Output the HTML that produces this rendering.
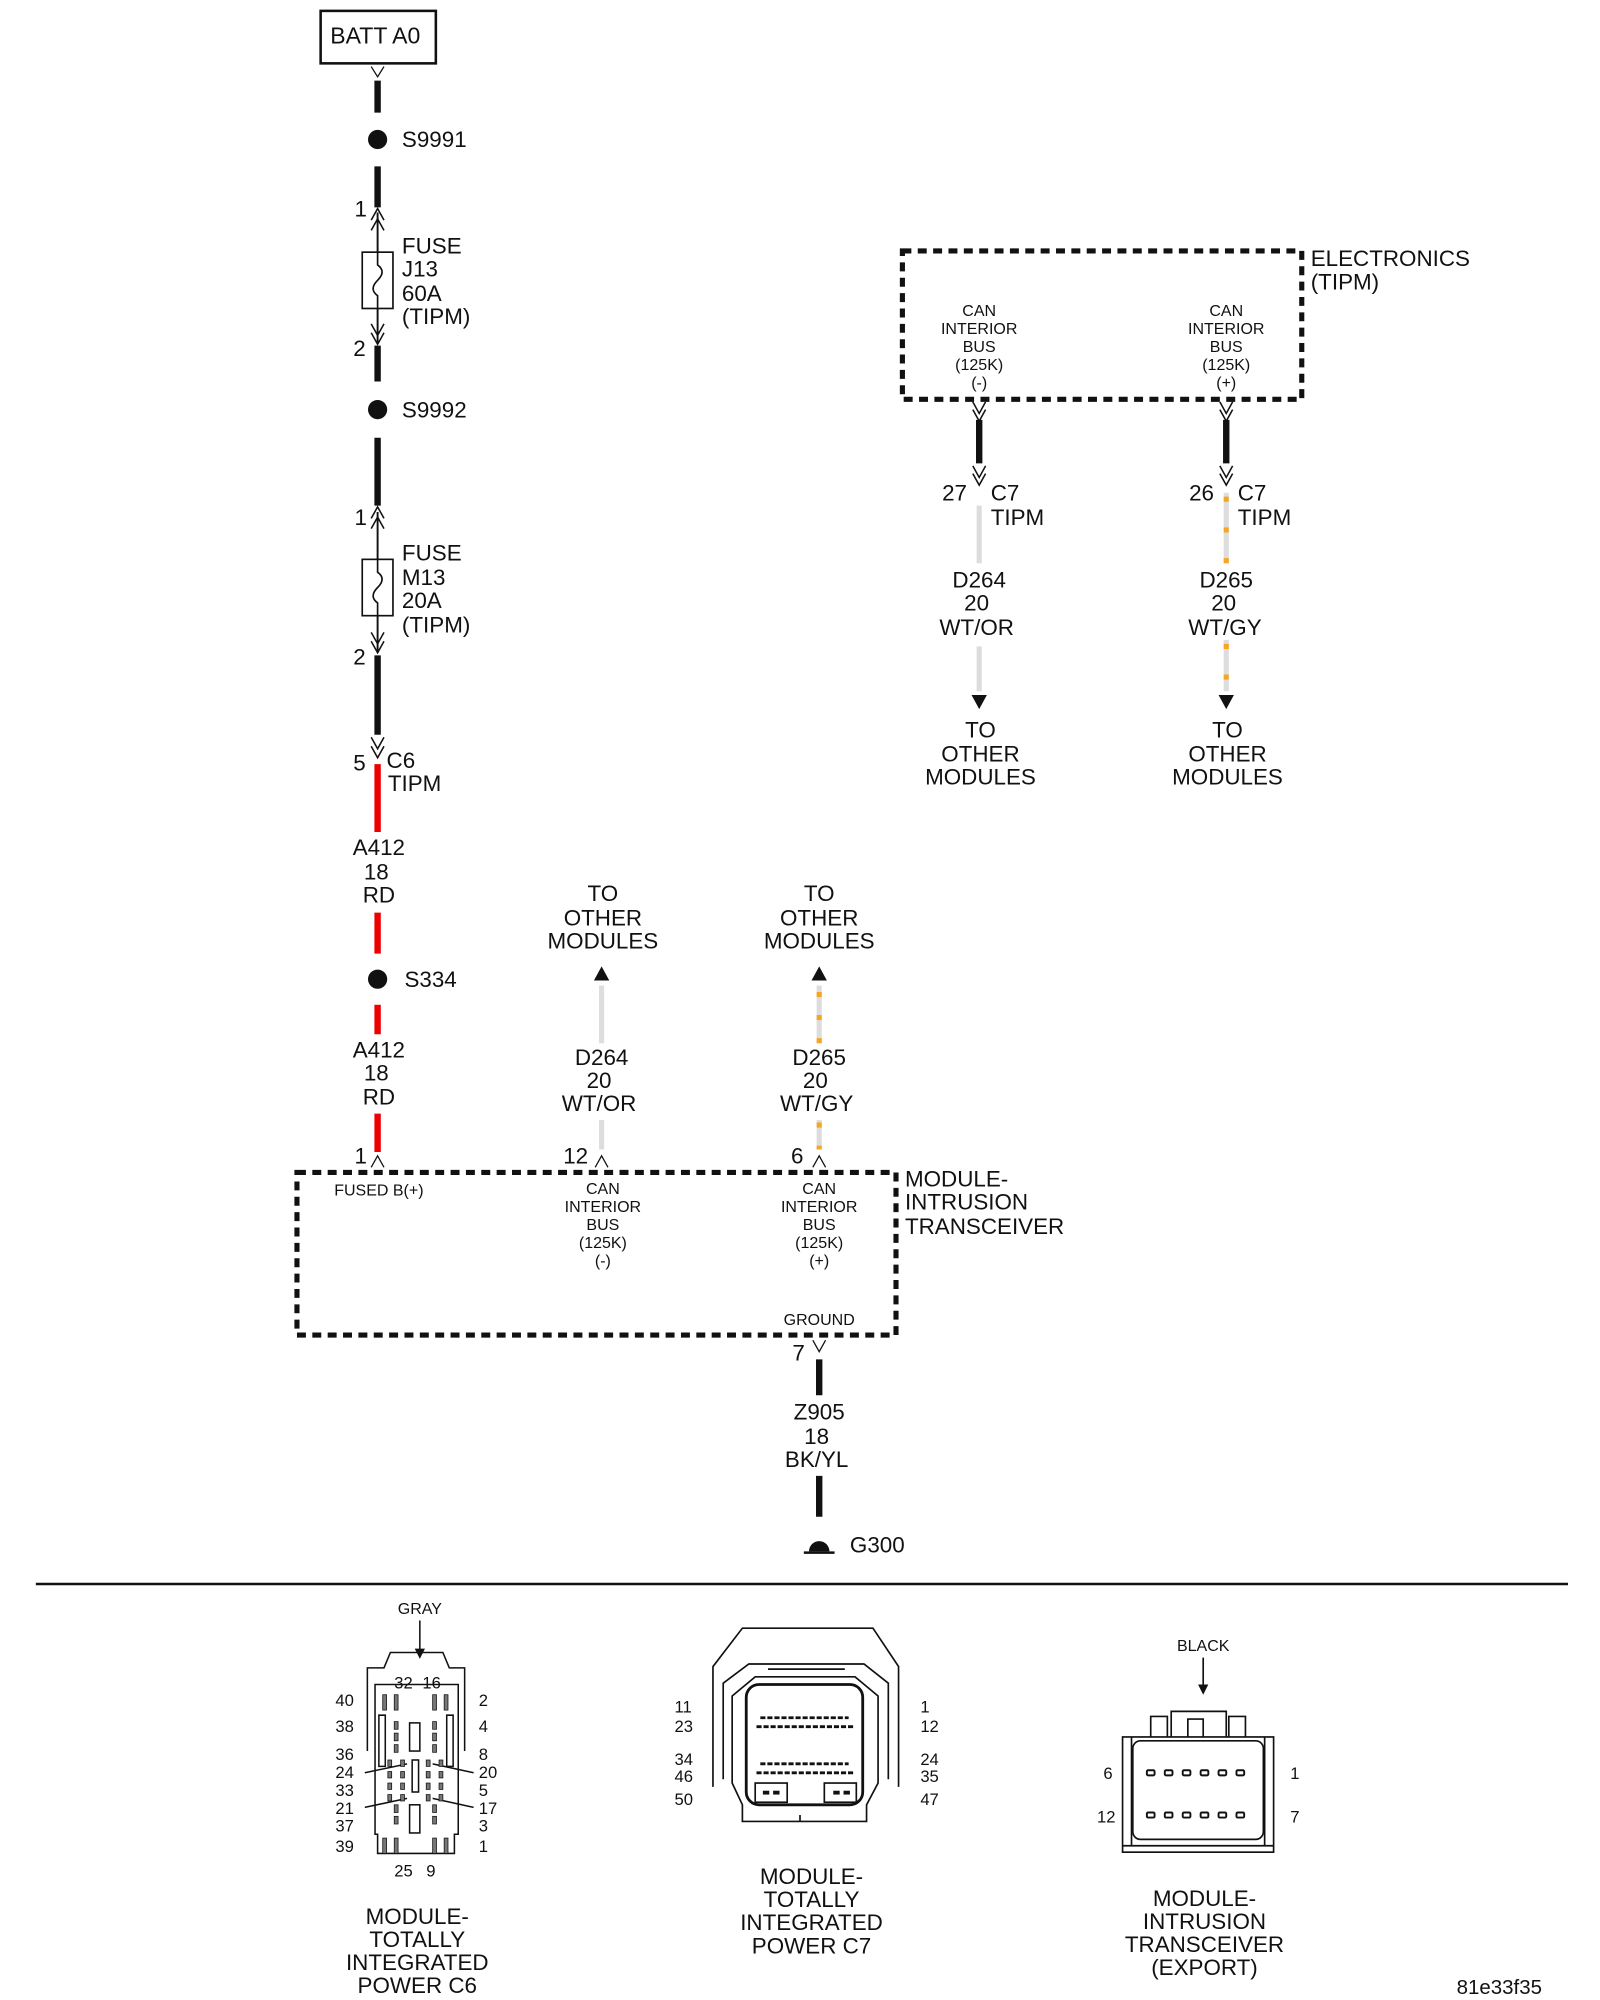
<!DOCTYPE html>
<html><head><meta charset="utf-8"><style>
html,body{margin:0;padding:0;background:#fff;}
svg{display:block;}
text{font-family:"Liberation Sans",sans-serif;fill:#111;}
.t{font-size:17.5px;}
.s{font-size:12.5px;}
.m{font-size:13px;}
</style></head><body>
<svg width="1600" height="2000" viewBox="0 0 1250 1562.5" xmlns="http://www.w3.org/2000/svg">
<g fill="none" stroke="#111">
<!-- BATT -->
<rect x="250.5" y="8.5" width="90" height="41" stroke-width="2"/>
<path d="M290 52 L295 60 L300 52" stroke-width="1"/>
<line x1="295" y1="63" x2="295" y2="88" stroke-width="5"/>
<line x1="295" y1="130" x2="295" y2="162" stroke-width="5"/>
<path d="M290 172 L295 163 L300 172 M290 180 L295 171 L300 180" stroke-width="1.2"/>
<line x1="295" y1="166" x2="295" y2="268" stroke-width="1.5"/>
<rect x="283" y="197" width="24" height="44" stroke-width="1.3" fill="#fff"/>
<path d="M295 197 L295 207 Q302 212 295 219 Q288 226 295 231 L295 241" stroke-width="1.3"/>
<path d="M290 253 L295 262 L300 253 M290 260 L295 269 L300 260" stroke-width="1.2"/>
<line x1="295" y1="270" x2="295" y2="298" stroke-width="5"/>
<line x1="295" y1="342" x2="295" y2="395" stroke-width="5"/>
<path d="M290 405 L295 396 L300 405 M290 413 L295 404 L300 413" stroke-width="1.2"/>
<line x1="295" y1="400" x2="295" y2="510" stroke-width="1.5"/>
<rect x="283" y="437" width="24" height="44" stroke-width="1.3" fill="#fff"/>
<path d="M295 437 L295 447 Q302 452 295 459 Q288 466 295 471 L295 481" stroke-width="1.3"/>
<path d="M290 494 L295 503 L300 494 M290 501 L295 510 L300 501" stroke-width="1.2"/>
<line x1="295" y1="512" x2="295" y2="574" stroke-width="5"/>
<path d="M290 576 L295 585 L300 576 M290 583 L295 592 L300 583" stroke-width="1.2"/>
<line x1="295" y1="597" x2="295" y2="650" stroke-width="5" stroke="#e00"/>
<line x1="295" y1="713" x2="295" y2="745" stroke-width="5" stroke="#e00"/>
<line x1="295" y1="785" x2="295" y2="808" stroke-width="5" stroke="#e00"/>
<line x1="295" y1="870" x2="295" y2="900" stroke-width="5" stroke="#e00"/>
<path d="M290 912 L295 903 L300 912" stroke-width="1"/>
<!-- module box -->
<rect x="232" y="916" width="468" height="127" stroke-width="4" stroke-dasharray="7,5"/>
<!-- D264 lower -->
<line x1="470" y1="770" x2="470" y2="815" stroke-width="4" stroke="#ddd"/>
<line x1="470" y1="875" x2="470" y2="898" stroke-width="4" stroke="#ddd"/>
<path d="M465 912 L470 903 L475 912" stroke-width="1"/>
<!-- D265 lower -->
<line x1="640" y1="770" x2="640" y2="815" stroke-width="4" stroke="#ddd"/>
<line x1="640" y1="775" x2="640" y2="815" stroke-width="4" stroke="#f5a623" stroke-dasharray="4,14"/>
<line x1="640" y1="875" x2="640" y2="898" stroke-width="4" stroke="#ddd"/>
<line x1="640" y1="877" x2="640" y2="898" stroke-width="4" stroke="#f5a623" stroke-dasharray="4,14"/>
<path d="M635 912 L640 903 L645 912" stroke-width="1"/>
<!-- ground -->
<path d="M635 1047 L640 1056 L645 1047" stroke-width="1"/>
<line x1="640" y1="1062" x2="640" y2="1090" stroke-width="5"/>
<line x1="640" y1="1153" x2="640" y2="1185" stroke-width="5"/>
<line x1="628" y1="1213" x2="652" y2="1213" stroke-width="2"/>
<line x1="28" y1="1237.5" x2="1225" y2="1237.5" stroke-width="2"/>
<!-- top right box -->
<rect x="705" y="196" width="312" height="116" stroke-width="4" stroke-dasharray="7,5"/>
<path d="M760 314 L765 323 L770 314 M760 320 L765 329 L770 320" stroke-width="1.2"/>
<line x1="765" y1="328" x2="765" y2="362" stroke-width="5"/>
<path d="M760 364 L765 373 L770 364 M760 370 L765 379 L770 370" stroke-width="1.2"/>
<line x1="765" y1="395" x2="765" y2="440" stroke-width="4" stroke="#ddd"/>
<line x1="765" y1="505" x2="765" y2="540" stroke-width="4" stroke="#ddd"/>
<path d="M953 314 L958 323 L963 314 M953 320 L958 329 L963 320" stroke-width="1.2"/>
<line x1="958" y1="328" x2="958" y2="362" stroke-width="5"/>
<path d="M953 364 L958 373 L963 364 M953 370 L958 379 L963 370" stroke-width="1.2"/>
<line x1="958" y1="385" x2="958" y2="440" stroke-width="4" stroke="#ddd"/>
<line x1="958" y1="388" x2="958" y2="440" stroke-width="4" stroke="#f5a623" stroke-dasharray="4,20"/>
<line x1="958" y1="500" x2="958" y2="540" stroke-width="4" stroke="#ddd"/>
<line x1="958" y1="503" x2="958" y2="540" stroke-width="4" stroke="#f5a623" stroke-dasharray="4,20"/>
</g>
<g fill="#111">
<circle cx="295" cy="109" r="7.5"/>
<circle cx="295" cy="320" r="7.5"/>
<circle cx="295" cy="765" r="7.5"/>
<path d="M464 766 L470 755 L476 766Z"/>
<path d="M634 766 L640 755 L646 766Z"/>
<path d="M759 543 L765 554 L771 543Z"/>
<path d="M952 543 L958 554 L964 543Z"/>
<path d="M632 1212 A8 8 0 0 1 648 1212Z"/>
</g>
<!-- texts -->
<g class="t">
<text x="258" y="34" style="font-size:18px">BATT A0</text>
<text x="314" y="115">S9991</text>
<text x="277" y="169">1</text>
<text x="314" y="198">FUSE</text><text x="314" y="216">J13</text><text x="314" y="235">60A</text><text x="314" y="253">(TIPM)</text>
<text x="276" y="278">2</text>
<text x="314" y="326">S9992</text>
<text x="277" y="410">1</text>
<text x="314" y="438">FUSE</text><text x="314" y="457">M13</text><text x="314" y="475">20A</text><text x="314" y="494">(TIPM)</text>
<text x="276" y="519">2</text>
<text x="276" y="602">5</text><text x="302" y="600">C6</text><text x="303" y="618">TIPM</text>
<g text-anchor="middle">
<text x="296" y="668">A412</text><text x="294" y="687">18</text><text x="296" y="705">RD</text>
<text x="296" y="826">A412</text><text x="294" y="844">18</text><text x="296" y="863">RD</text>
<text x="471" y="704">TO</text><text x="471" y="723">OTHER</text><text x="471" y="741">MODULES</text>
<text x="640" y="704">TO</text><text x="640" y="723">OTHER</text><text x="640" y="741">MODULES</text>
<text x="470" y="832">D264</text><text x="468" y="850">20</text><text x="468" y="868">WT/OR</text>
<text x="640" y="832">D265</text><text x="637" y="850">20</text><text x="638" y="868">WT/GY</text>
<text x="640" y="1109">Z905</text><text x="638" y="1128">18</text><text x="638" y="1146">BK/YL</text>
<text x="765" y="459">D264</text><text x="763" y="477">20</text><text x="763" y="496">WT/OR</text>
<text x="958" y="459">D265</text><text x="956" y="477">20</text><text x="957" y="496">WT/GY</text>
<text x="766" y="576">TO</text><text x="766" y="595">OTHER</text><text x="766" y="613">MODULES</text>
<text x="959" y="576">TO</text><text x="959" y="595">OTHER</text><text x="959" y="613">MODULES</text>
<text x="326" y="1503">MODULE-</text><text x="326" y="1521">TOTALLY</text><text x="326" y="1539">INTEGRATED</text><text x="326" y="1557">POWER C6</text>
<text x="634" y="1472">MODULE-</text><text x="634" y="1490">TOTALLY</text><text x="634" y="1508">INTEGRATED</text><text x="634" y="1526">POWER C7</text>
<text x="941" y="1489">MODULE-</text><text x="941" y="1507">INTRUSION</text><text x="941" y="1525">TRANSCEIVER</text><text x="941" y="1543">(EXPORT)</text>
</g>
<text x="316" y="771">S334</text>
<text x="277" y="909">1</text>
<text x="440" y="909">12</text>
<text x="618" y="909">6</text>
<text x="707" y="927">MODULE-</text><text x="707" y="945">INTRUSION</text><text x="707" y="964">TRANSCEIVER</text>
<text x="619" y="1063">7</text>
<text x="664" y="1213">G300</text>
<text x="1024" y="208">ELECTRONICS</text><text x="1024" y="226">(TIPM)</text>
<text x="736" y="391">27</text><text x="774" y="391">C7</text><text x="774" y="410">TIPM</text>
<text x="929" y="391">26</text><text x="967" y="391">C7</text><text x="967" y="410">TIPM</text>
<text x="1138" y="1558" style="font-size:16px">81e33f35</text>
</g>
<g class="s" text-anchor="middle">
<text x="296" y="934" text-anchor="middle">FUSED B(+)</text>
<text x="471" y="933">CAN</text><text x="471" y="947">INTERIOR</text><text x="471" y="961">BUS</text><text x="471" y="975">(125K)</text><text x="471" y="989">(-)</text>
<text x="640" y="933">CAN</text><text x="640" y="947">INTERIOR</text><text x="640" y="961">BUS</text><text x="640" y="975">(125K)</text><text x="640" y="989">(+)</text>
<text x="640" y="1035">GROUND</text>
<text x="765" y="247">CAN</text><text x="765" y="261">INTERIOR</text><text x="765" y="275">BUS</text><text x="765" y="289">(125K)</text><text x="765" y="303">(-)</text>
<text x="958" y="247">CAN</text><text x="958" y="261">INTERIOR</text><text x="958" y="275">BUS</text><text x="958" y="289">(125K)</text><text x="958" y="303">(+)</text>
<text x="328" y="1261">GRAY</text>
<text x="940" y="1290">BLACK</text>
</g>
<!-- C6 connector -->
<g fill="none" stroke="#111" stroke-width="1.2">
<line x1="328" y1="1266" x2="328" y2="1290"/>
<path d="M287 1368 L287 1303 L300 1303 L305 1291 L346 1291 L351 1303 L363 1303 L363 1368"/>
<path d="M293 1316 L358 1316 L358 1433 L355 1433 L355 1448 L295 1448 L295 1433 L293 1433 Z"/>
<line x1="285" y1="1385" x2="318" y2="1378"/><line x1="370" y1="1385" x2="338" y2="1378"/>
<line x1="285" y1="1412" x2="318" y2="1405"/><line x1="370" y1="1412" x2="338" y2="1405"/>
<rect x="320" y="1346" width="8" height="22"/><rect x="322" y="1375" width="5" height="25"/><rect x="320" y="1410" width="8" height="22"/>
<path d="M296 1340 v40 h5 v-40z M349 1340 v40 h5 v-40z"/>
</g>
<g fill="#777" stroke="#111" stroke-width="0.6">
<rect x="299" y="1324" width="3" height="12"/><rect x="308" y="1324" width="3" height="12"/><rect x="338" y="1324" width="3" height="12"/><rect x="347" y="1324" width="3" height="12"/>
<rect x="299" y="1436" width="3" height="12"/><rect x="308" y="1436" width="3" height="12"/><rect x="338" y="1436" width="3" height="12"/><rect x="347" y="1436" width="3" height="12"/>
<rect x="308" y="1345" width="3" height="6"/><rect x="308" y="1354" width="3" height="6"/><rect x="308" y="1363" width="3" height="6"/>
<rect x="338" y="1345" width="3" height="6"/><rect x="338" y="1354" width="3" height="6"/><rect x="338" y="1363" width="3" height="6"/>
<rect x="303" y="1375" width="3" height="5"/><rect x="303" y="1384" width="3" height="5"/><rect x="303" y="1393" width="3" height="5"/><rect x="303" y="1402" width="3" height="5"/>
<rect x="313" y="1375" width="3" height="5"/><rect x="313" y="1384" width="3" height="5"/><rect x="313" y="1393" width="3" height="5"/><rect x="313" y="1402" width="3" height="5"/>
<rect x="333" y="1375" width="3" height="5"/><rect x="333" y="1384" width="3" height="5"/><rect x="333" y="1393" width="3" height="5"/><rect x="333" y="1402" width="3" height="5"/>
<rect x="343" y="1375" width="3" height="5"/><rect x="343" y="1384" width="3" height="5"/><rect x="343" y="1393" width="3" height="5"/><rect x="343" y="1402" width="3" height="5"/>
<rect x="308" y="1410" width="3" height="6"/><rect x="308" y="1419" width="3" height="6"/><rect x="338" y="1410" width="3" height="6"/><rect x="338" y="1419" width="3" height="6"/>
</g>
<g fill="#111">
<path d="M324 1288 L328 1296 L332 1288Z"/>
</g>
<g class="m">
<text x="308" y="1319">32</text><text x="330" y="1319">16</text>
<text x="262" y="1333">40</text><text x="262" y="1353">38</text><text x="262" y="1375">36</text><text x="262" y="1389">24</text><text x="262" y="1403">33</text><text x="262" y="1417">21</text><text x="262" y="1431">37</text><text x="262" y="1447">39</text>
<text x="374" y="1333">2</text><text x="374" y="1353">4</text><text x="374" y="1375">8</text><text x="374" y="1389">20</text><text x="374" y="1403">5</text><text x="374" y="1417">17</text><text x="374" y="1431">3</text><text x="374" y="1447">1</text>
<text x="308" y="1466">25</text><text x="333" y="1466">9</text>
<text x="527" y="1338">11</text><text x="527" y="1353">23</text><text x="527" y="1379">34</text><text x="527" y="1392">46</text><text x="527" y="1410">50</text>
<text x="719" y="1338">1</text><text x="719" y="1353">12</text><text x="719" y="1379">24</text><text x="719" y="1392">35</text><text x="719" y="1410">47</text>
<text x="862" y="1390">6</text><text x="857" y="1424">12</text><text x="1008" y="1390">1</text><text x="1008" y="1424">7</text>
</g>
<!-- C7 connector -->
<g fill="none" stroke="#111" stroke-width="1.3">
<path d="M557 1396 L557 1302 L580 1272 L682 1272 L702 1302 L702 1396"/>
<path d="M565 1390 L565 1315 L585 1300 L675 1300 L694 1315 L694 1390"/>
<path d="M572 1393 L572 1325 L590 1310 L668 1310 L686 1325 L686 1393 L677 1410 L677 1423 L580 1423 L580 1410 Z"/>
<rect x="583" y="1316" width="91" height="94" rx="10" stroke-width="2.2"/>
<rect x="590" y="1393" width="25" height="15"/><rect x="644" y="1393" width="25" height="15"/>
<path d="M600 1304 h60 M625 1423 v-5"/>
</g>
<g stroke="#111" stroke-width="2.2" stroke-dasharray="4,1.5">
<line x1="594" y1="1342" x2="663" y2="1342"/><line x1="591" y1="1349" x2="667" y2="1349"/>
<line x1="594" y1="1378" x2="663" y2="1378"/><line x1="591" y1="1385" x2="667" y2="1385"/>
</g>
<g fill="#111"><rect x="596" y="1399" width="5" height="3"/><rect x="604" y="1399" width="5" height="3"/><rect x="651" y="1399" width="5" height="3"/><rect x="659" y="1399" width="5" height="3"/></g>
<!-- right connector -->
<g fill="none" stroke="#111" stroke-width="1.3">
<line x1="940" y1="1295" x2="940" y2="1318"/>
<rect x="877" y="1357" width="118" height="90"/>
<path d="M877 1442 h118"/>
<path d="M884 1357 v85 M988 1357 v85"/>
<rect x="885" y="1360" width="102" height="77" rx="6"/>
<path d="M915 1357 v-20 h43 v20 M899 1357 v-16 h13 v16 M960 1357 v-16 h13 v16 M928 1357 v-14 h12 v14"/>
</g>
<path d="M936 1316 L940 1324 L944 1316Z" fill="#111"/>
<g fill="none" stroke="#111" stroke-width="1.5">
<rect x="896" y="1383" width="6" height="4" rx="1"/><rect x="910" y="1383" width="6" height="4" rx="1"/><rect x="924" y="1383" width="6" height="4" rx="1"/><rect x="938" y="1383" width="6" height="4" rx="1"/><rect x="952" y="1383" width="6" height="4" rx="1"/><rect x="966" y="1383" width="6" height="4" rx="1"/>
<rect x="896" y="1416" width="6" height="4" rx="1"/><rect x="910" y="1416" width="6" height="4" rx="1"/><rect x="924" y="1416" width="6" height="4" rx="1"/><rect x="938" y="1416" width="6" height="4" rx="1"/><rect x="952" y="1416" width="6" height="4" rx="1"/><rect x="966" y="1416" width="6" height="4" rx="1"/>
</g>
</svg>
</body></html>
